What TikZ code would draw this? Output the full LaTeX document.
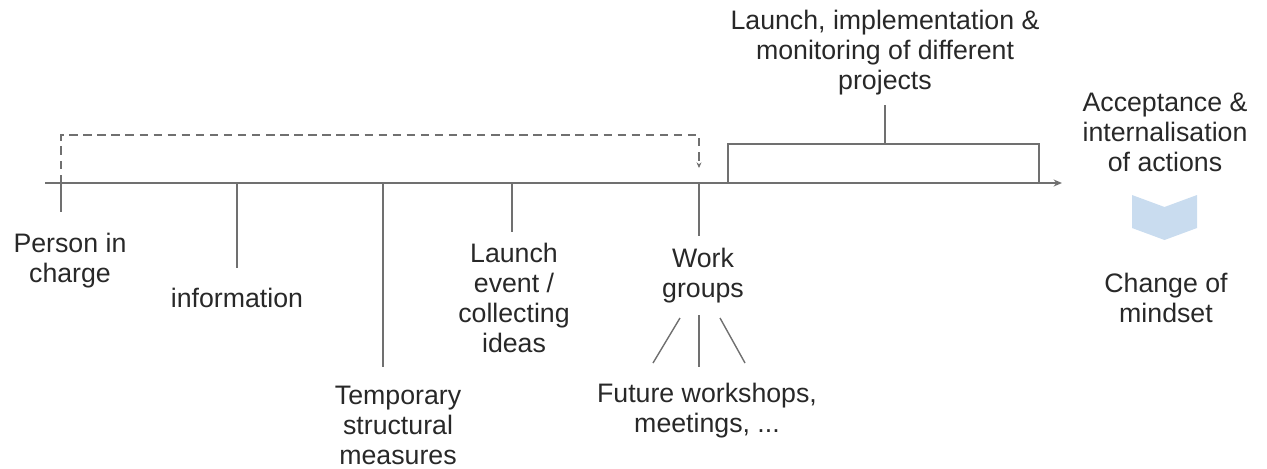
\documentclass[tikz,border=0pt]{standalone}
\usepackage{fontspec}
\setmainfont{Liberation Sans}
\usepackage{xcolor}
\definecolor{linegray}{RGB}{112,112,112}
\definecolor{textgray}{RGB}{40,40,40}
\definecolor{shiftblue}{RGB}{201,220,239}
\usepackage{tikz}
\usetikzlibrary{arrows.meta}
\tikzstyle{stage} = [
    align=center, anchor=north, inner sep=0pt, text=textgray,
    font=\fontsize{19}{21.3}\selectfont,
]
\tikzstyle{stem} = [draw=linegray, line width=1pt]
\tikzstyle{arrow} = [-{Stealth[length=6pt,width=5pt]}]

\begin{document}
\begin{tikzpicture}[x=0.025cm, y=-0.025cm]
    \useasboundingbox (0,0) rectangle (1267,468);

    % time axis
    \coordinate (start) at (45,183);
    \coordinate (end) at (1062,183);
    \draw[stem, arrow] (start) -- (end);

    % milestones below the axis
    \node (person) at (70, 233) [stage] {Person in\\charge};
    \node (info) at (237, 288) [stage] {information};
    \node (temp) at (398, 386) [stage] {Temporary\\structural\\measures};
    \node (event) at (514, 243) [stage] {Launch\\event /\\collecting\\ideas};
    \node (work) at (703, 248) [stage] {Work\\groups};
    \node (future) at (707, 383) [stage] {Future workshops,\\meetings, ...};

    \draw[stem] (61,183) coordinate (p0) -- (61,212) coordinate (p1);
    \draw[stem] (237,183) coordinate (i0) -- (237,268) coordinate (i1);
    \draw[stem] (383,183) coordinate (t0) -- (383,367) coordinate (t1);
    \draw[stem] (512,183) coordinate (e0) -- (512,232) coordinate (e1);
    \draw[stem] (699,183) coordinate (w0) -- (699,236) coordinate (w1);

    % person in charge leads up to the work groups
    \coordinate (d1) at (61,135);
    \coordinate (d2) at (699,135);
    \coordinate (d3) at (699,168);
    \draw[stem, dashed, dash pattern=on 6pt off 4pt, -{Stealth[length=4pt,width=3.5pt]}]
        (p0) -- (d1) -- (d2) -- (d3);

    % work groups fan out
    \coordinate (f1) at (680,318);
    \coordinate (f2) at (699,315);
    \coordinate (f3) at (720,318);
    \draw[stem] (f1) -- (653,363);
    \draw[stem] (f2) -- (699,367);
    \draw[stem] (f3) -- (745,363);

    % project phase above the axis
    \coordinate (b0) at (728,183);
    \coordinate (b1) at (1039,183);
    \draw[stem] (b0) -- (728,144) -- (1039,144) -- (b1);
    \coordinate (bm) at (885,144);
    \node (projects) at (885, 10) [stage] {Launch, implementation \&\\monitoring of different\\projects};
    \draw[stem] (bm) -- (885,105);

    % outcome
    \node (accept) at (1165, 93) [stage] {Acceptance \&\\internalisation\\of actions};
    \fill[shiftblue] (1132,195) -- (1164.5,207) -- (1197,195) -- (1197,228)
        -- (1164.5,240) -- (1132,228) -- cycle;
    \node (mindset) at (1166, 273) [stage] {Change of\\mindset};

\end{tikzpicture}
\end{document}
